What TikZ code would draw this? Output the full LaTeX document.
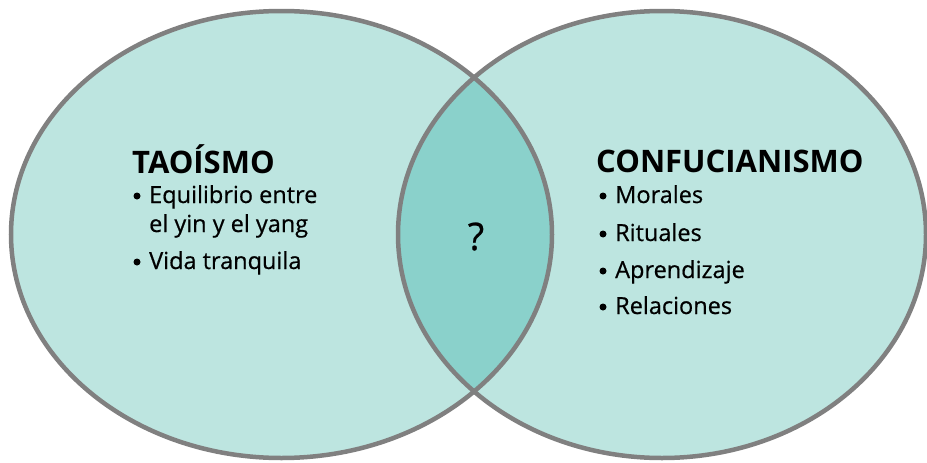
\documentclass[tikz,border=0pt]{standalone}
\usepackage{fontspec}
\setmainfont{Open Sans}
\newfontfamily\itemfont[FakeBold=0.6]{Open Sans}
\definecolor{fillA}{HTML}{BDE5E0}
\definecolor{fillB}{HTML}{8AD1CB}
\definecolor{edge}{HTML}{808080}
\begin{document}
\begin{tikzpicture}[x=1pt,y=-1pt,
  title/.style={anchor=base west,inner sep=0pt,font=\bfseries\fontsize{31}{31}\selectfont},
  item/.style={anchor=base west,inner sep=0pt,font=\itemfont\fontsize{23.5}{23.5}\selectfont},
  dot/.style={circle,fill=black,inner sep=0pt,minimum size=7pt},
  ring/.style={draw=edge,line width=4.5pt}]
\useasboundingbox (0,0) rectangle (927,463);
\coordinate (L) at (281.5,234.5);
\coordinate (R) at (662,234.5);
\fill[fillA] (L) ellipse [x radius=270.5,y radius=223.5];
\fill[fillA] (R) ellipse [x radius=264,y radius=223.5];
\begin{scope}
  \clip (L) ellipse [x radius=270.5,y radius=223.5];
  \fill[fillB] (R) ellipse [x radius=264,y radius=223.5];
\end{scope}
\draw[ring] (L) ellipse [x radius=270.5,y radius=223.5];
\draw[ring] (R) ellipse [x radius=264,y radius=223.5];
% left text
\node[title] (t1) at (132,173) {TAOÍSMO};
\node[dot] (b1) at (137,196) {};
\node[item] (l1) at (149,203) {Equilibrio entre};
\node[item] (l2) at (149,232) {el yin y el yang};
\node[dot] (b2) at (137,262) {};
\node[item] (l3) at (149,269) {Vida tranquila};
% right text
\node[title] (t2) at (596,172) {CONFUCIANISMO};
\node[dot] (d1) at (603,196) {};
\node[item] (r1) at (615,203) {Morales};
\node[dot] (d2) at (603,234) {};
\node[item] (r2) at (615,241) {Rituales};
\node[dot] (d3) at (603,271) {};
\node[item] (r3) at (615,278) {Aprendizaje};
\node[dot] (d4) at (603,307) {};
\node[item] (r4) at (615,314) {Relaciones};
% middle
\node[anchor=base,inner sep=0pt,font=\itemfont\fontsize{38}{38}\selectfont] (q) at (476,250) {?};
\end{tikzpicture}
\end{document}
